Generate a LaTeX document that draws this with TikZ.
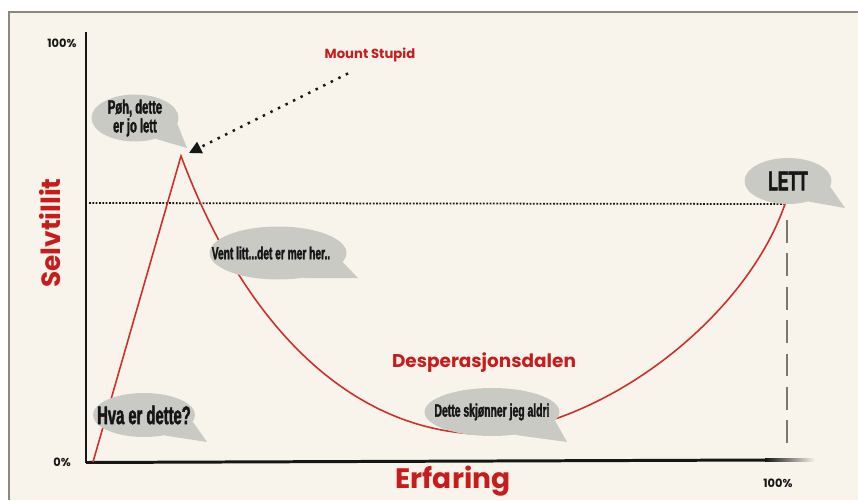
\documentclass[tikz,border=0pt]{standalone}
\usepackage{fontspec}
\setmainfont{Poppins}
\newfontfamily\bubblefont[FakeStretch=0.58, BoldFeatures={FakeBold=1.8}]{Liberation Sans}
\usepackage{tikz}
\usetikzlibrary{arrows.meta, positioning, calc, shapes.geometric}
\usepackage{xcolor}
\definecolor{paper}{RGB}{248,244,236}
\definecolor{framegrey}{RGB}{140,136,126}
\definecolor{curvered}{RGB}{208,46,40}
\definecolor{labelred}{RGB}{200,28,28}
\definecolor{bubblegrey}{RGB}{202,202,197}
\definecolor{ink}{RGB}{22,22,22}
\definecolor{dashgrey}{RGB}{120,120,116}

\tikzset{
  bubble/.style={ellipse, fill=bubblegrey, inner sep=0pt},
  bubbletext/.style={text=ink, align=center, inner sep=0pt},
  redlabel/.style={text=labelred, inner sep=0pt},
  pct/.style={text=ink, inner sep=0pt, font=\bfseries\fontsize{6.5}{7}\selectfont},
}

\begin{document}
\begin{tikzpicture}[x=0.02cm, y=-0.02cm]
  \useasboundingbox (0,0) rectangle (858,500);
  % paper and frame
  \fill[paper] (9,12) rectangle (858,500);
  \draw[framegrey, line width=0.7pt] (9,500) -- (9,12) -- (858,12);
  % axes
  \draw[ink, line width=1.4pt] (86,32) -- (86,463);
  \draw[ink, line width=1.7pt] (86,462.5) -- (765,460);
  \shade[left color=ink, right color=paper] (765,458.5) rectangle (815,461.5);
  \node[pct] (top) at (62,43) {100\%};
  \node[pct] (zero) at (62,462) {0\%};
  \node[pct] (full) at (778,483) {100\%};
  \node[redlabel, font=\bfseries\fontsize{16}{17}\selectfont] (xlab) at (453,481) {Erfaring};
  \node[redlabel, rotate=90, font=\bfseries\fontsize{15}{16}\selectfont] (ylab) at (50,233) {Selvtillit};
  % key points of the curve
  \coordinate (origin) at (93,462);
  \coordinate (peak) at (181,156);
  \coordinate (valley) at (478,434);
  \coordinate (goal) at (785,204);
  \coordinate (stupidtip) at (189,153);
  % reference lines
  \draw[ink, line width=1pt, dash pattern=on 1pt off 0.9pt] (89,203) -- (goal);
  \draw[dashgrey, line width=1.3pt, dash pattern=on 13pt off 6pt] (787,220) -- (787,450);
  % confidence curve
  \draw[curvered, line width=0.9pt] (origin) -- (peak)
    .. controls (250,340) and (360,430) .. (valley)
    .. controls (600,430) and (745,320) .. (goal);
  % labels
  \node[redlabel, font=\bfseries\fontsize{7.5}{8}\selectfont] (stupid) at (370,55) {Mount Stupid};
  \node[redlabel, font=\bfseries\fontsize{10.5}{11}\selectfont] (dal) at (484,363) {Desperasjonsdalen};
  \draw[ink, line width=1.4pt, dash pattern=on 1.4pt off 3.4pt, -{Triangle[length=7pt,width=7pt]}]
    ([shift={(-22,11)}]stupid.south) -- (stupidtip);
  % speech bubbles
  \node[bubble, minimum width=1.74cm, minimum height=0.94cm] (poeh) at (135,118) {};
  \node[bubble, minimum width=2.74cm, minimum height=1.06cm] (vent) at (278,253) {};
  \node[bubble, minimum width=2.04cm, minimum height=0.88cm] (hva) at (144,415) {};
  \node[bubble, minimum width=2.7cm, minimum height=0.96cm] (dette) at (492,412) {};
  \node[bubble, minimum width=1.74cm, minimum height=0.92cm] (lett) at (788,181) {};
  \foreach \b/\tx/\ty in {poeh/187/148, vent/358/278, hva/207/442, dette/567/442, lett/845/208}
    \fill[bubblegrey] (\b.-8) -- (\tx,\ty) -- (\b.-45) -- cycle;
  \node[bubbletext, font=\bubblefont\bfseries\fontsize{11}{9.5}\selectfont] (poeh-t) at (poeh) {Pøh, dette\\er jo lett};
  \node[bubbletext, font=\bubblefont\bfseries\fontsize{10}{11}\selectfont] (vent-t) at ([xshift=-4]vent.center) {Vent litt...det er mer her..};
  \node[bubbletext, font=\bubblefont\bfseries\fontsize{14.5}{15}\selectfont] (hva-t) at (hva) {Hva er dette?};
  \node[bubbletext, font=\bubblefont\bfseries\fontsize{10.2}{11}\selectfont] (dette-t) at (dette) {Dette skjønner jeg aldri};
  \node[bubbletext, font=\bubblefont\bfseries\fontsize{15.5}{16}\selectfont] (lett-t) at (lett) {LETT};
\end{tikzpicture}
\end{document}
